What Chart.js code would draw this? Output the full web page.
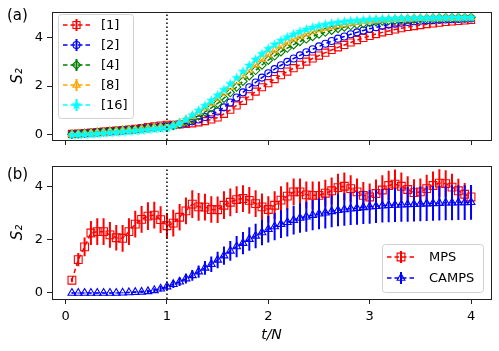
<!DOCTYPE html>
<html>
<head>
<meta charset="utf-8">
<script src="https://cdn.jsdelivr.net/npm/chart.js@4.4.1/dist/chart.umd.min.js"></script>
<style>
  html, body { margin: 0; padding: 0; background: #fff; }
  #wrap { position: relative; width: 499px; height: 351px; overflow: hidden; }
  #wrap canvas { position: absolute; left: 0; }
  #topChart { top: 0; }
  #botChart { top: 150px; }
</style>
</head>
<body>
<div id="wrap">
  <canvas id="topChart" width="499" height="160"></canvas>
  <canvas id="botChart" width="499" height="201"></canvas>
</div>
<script>
// time axis t/N
const times = [0.0625,0.125,0.1875,0.25,0.3125,0.375,0.4375,0.5,0.5625,0.625,0.6875,0.75,0.8125,0.875,0.9375,1.0,
  1.0625,1.125,1.1875,1.25,1.3125,1.375,1.4375,1.5,1.5625,1.625,1.6875,1.75,1.8125,1.875,1.9375,2.0,
  2.0625,2.125,2.1875,2.25,2.3125,2.375,2.4375,2.5,2.5625,2.625,2.6875,2.75,2.8125,2.875,2.9375,3.0,
  3.0625,3.125,3.1875,3.25,3.3125,3.375,3.4375,3.5,3.5625,3.625,3.6875,3.75,3.8125,3.875,3.9375,4.0];

// panel (a)
const s1 = [0.02,0.04,0.06,0.08,0.10,0.12,0.14,0.16,0.18,0.20,0.23,0.26,0.30,0.34,0.37,
  0.40,0.40,0.41,0.43,0.46,0.50,0.55,0.62,0.70,0.85,1.02,1.20,1.39,1.58,1.77,1.95,2.12,
  2.29,2.45,2.60,2.74,2.88,3.01,3.14,3.26,3.38,3.49,3.60,3.70,3.80,3.90,3.99,4.07,
  4.15,4.22,4.28,4.34,4.39,4.44,4.48,4.52,4.56,4.59,4.62,4.65,4.67,4.69,4.71,4.73];
const s2 = [0.01,0.03,0.05,0.07,0.09,0.11,0.13,0.15,0.17,0.19,0.21,0.24,0.27,0.30,0.33,
  0.35,0.38,0.42,0.47,0.54,0.62,0.72,0.83,0.95,1.12,1.32,1.53,1.74,1.95,2.15,2.35,2.53,
  2.70,2.86,3.00,3.14,3.27,3.40,3.52,3.64,3.75,3.86,3.96,4.05,4.14,4.22,4.30,4.37,
  4.43,4.49,4.54,4.58,4.62,4.65,4.68,4.70,4.72,4.73,4.74,4.75,4.76,4.77,4.78,4.79];
const s4 = [0.01,0.03,0.05,0.07,0.09,0.11,0.13,0.15,0.17,0.19,0.21,0.24,0.27,0.29,0.31,
  0.33,0.37,0.43,0.52,0.63,0.77,0.93,1.10,1.28,1.50,1.73,1.96,2.20,2.43,2.65,2.87,3.07,
  3.25,3.42,3.57,3.71,3.84,3.95,4.05,4.15,4.23,4.31,4.38,4.44,4.50,4.55,4.59,4.63,
  4.66,4.69,4.71,4.73,4.75,4.76,4.77,4.78,4.79,4.80,4.81,4.82,4.82,4.83,4.83,4.84];
const s8 = [0.00,0.02,0.04,0.06,0.08,0.10,0.12,0.14,0.16,0.18,0.20,0.23,0.26,0.29,0.31,
  0.33,0.38,0.48,0.60,0.75,0.92,1.10,1.30,1.50,1.72,1.95,2.19,2.43,2.66,2.88,3.10,3.30,
  3.48,3.65,3.80,3.94,4.06,4.16,4.25,4.33,4.40,4.46,4.51,4.56,4.60,4.63,4.66,4.69,
  4.71,4.73,4.75,4.76,4.77,4.78,4.79,4.80,4.80,4.81,4.81,4.82,4.82,4.82,4.83,4.83];
const s16 = [-0.03,-0.02,-0.01,0.00,0.02,0.04,0.06,0.08,0.10,0.12,0.14,0.16,0.19,0.22,0.24,
  0.27,0.35,0.47,0.62,0.80,0.99,1.19,1.40,1.62,1.85,2.09,2.34,2.60,2.85,3.10,3.33,3.54,
  3.72,3.88,4.02,4.14,4.25,4.34,4.42,4.49,4.54,4.59,4.63,4.66,4.69,4.71,4.73,4.75,
  4.76,4.77,4.78,4.79,4.80,4.80,4.81,4.81,4.81,4.82,4.82,4.82,4.83,4.83,4.83,4.83];
const topLabels = ['[1]', '[2]', '[4]', '[8]', '[16]'];

// panel (b)
const mps = [0.48,1.25,1.73,2.25,2.30,2.30,2.18,2.07,2.05,2.30,2.58,2.76,2.88,2.92,2.75,2.52,
  2.62,2.84,3.08,3.33,3.23,3.22,3.13,3.12,3.29,3.40,3.50,3.54,3.47,3.35,3.23,3.13,
  3.29,3.48,3.63,3.79,3.79,3.68,3.66,3.66,3.74,3.83,3.95,4.00,3.91,3.79,3.66,3.60,
  3.73,3.86,4.03,4.08,4.00,3.88,3.76,3.79,3.91,4.03,4.12,4.10,3.97,3.83,3.70,3.60];
const mpsErr = [0.08,0.25,0.35,0.45,0.50,0.50,0.48,0.48,0.50,0.50,0.50,0.50,0.52,0.50,0.50,0.48,
  0.50,0.50,0.50,0.52,0.52,0.50,0.50,0.50,0.52,0.52,0.50,0.50,0.50,0.50,0.50,0.50,
  0.52,0.52,0.52,0.50,0.50,0.50,0.52,0.52,0.50,0.50,0.52,0.52,0.50,0.50,0.50,0.50,
  0.52,0.55,0.55,0.55,0.52,0.50,0.50,0.50,0.52,0.52,0.52,0.50,0.50,0.45,0.42,0.40];
const camps = [0,0,0,0,0,0,0,0,0.01,0.02,0.03,0.04,0.06,0.10,0.16,0.24,
  0.33,0.42,0.54,0.66,0.80,0.94,1.08,1.24,1.40,1.58,1.74,1.87,2.02,2.14,2.27,2.39,
  2.49,2.58,2.65,2.73,2.81,2.86,2.92,2.97,3.01,3.06,3.10,3.13,3.16,3.18,3.21,3.23,
  3.25,3.27,3.29,3.30,3.31,3.32,3.33,3.34,3.35,3.36,3.37,3.38,3.38,3.39,3.39,3.40];
const campsErr = [0.02,0.02,0.02,0.02,0.02,0.02,0.02,0.02,0.02,0.03,0.04,0.05,0.06,0.08,0.10,0.12,
  0.14,0.16,0.18,0.20,0.23,0.26,0.29,0.31,0.34,0.37,0.40,0.42,0.44,0.46,0.48,0.50,
  0.51,0.52,0.53,0.54,0.55,0.56,0.57,0.58,0.59,0.60,0.60,0.61,0.61,0.62,0.62,0.63,
  0.63,0.63,0.64,0.64,0.64,0.65,0.65,0.65,0.65,0.65,0.65,0.65,0.65,0.65,0.65,0.65];
const botLabels = ['MPS', 'CAMPS'];

const xTicks = [0, 1, 2, 3, 4];
const yTicks = [0, 2, 4];
const xRange = [-0.134, 4.197];
const topYRange = [-0.23, 5.07];
const botYRange = [-0.225, 4.76];
const quenchTime = 1;

const FONT = '"DejaVu Sans", "Liberation Sans", sans-serif';

// filled five-point star for the [16] series
function makeStar(r, color) {
  const c = document.createElement('canvas');
  c.width = c.height = Math.ceil(r * 2 + 2);
  const g = c.getContext('2d');
  const cx = c.width / 2, cy = c.height / 2;
  g.beginPath();
  for (let i = 0; i < 10; i++) {
    const rr = i % 2 ? r * 0.42 : r;
    const a = -Math.PI / 2 + i * Math.PI / 5;
    g.lineTo(cx + rr * Math.cos(a), cy + rr * Math.sin(a));
  }
  g.closePath();
  g.fillStyle = color;
  g.fill();
  return c;
}
const star = makeStar(5.5, '#00ffff');

const pts = (ys) => times.map((t, i) => ({ x: t, y: ys[i] }));

function series(label, ys, color, style, radius, order, errs) {
  return {
    label: label,
    data: pts(ys),
    errors: errs,
    borderColor: color,
    borderWidth: 1.5,
    borderDash: [4.5, 3],
    pointStyle: style,
    pointRadius: radius,
    pointBorderWidth: 1.1,
    pointBorderColor: color,
    pointBackgroundColor: 'rgba(0,0,0,0)',
    order: order
  };
}

function vline(range) {
  return {
    data: [{ x: quenchTime, y: range[0] }, { x: quenchTime, y: range[1] }],
    borderColor: '#000',
    borderWidth: 1.5,
    borderDash: [1.5, 2.5],
    pointRadius: 0,
    order: 0
  };
}

// vertical error bars, drawn under each series' line and markers
const errorBars = {
  id: 'errorBars',
  beforeDatasetDraw(chart, args) {
    const ds = chart.data.datasets[args.index];
    if (!ds.errors) return;
    const { ctx, chartArea, scales } = chart;
    ctx.save();
    ctx.beginPath();
    ctx.rect(chartArea.left, chartArea.top, chartArea.width, chartArea.height);
    ctx.clip();
    ctx.strokeStyle = ds.borderColor;
    ctx.lineWidth = 2;
    ctx.beginPath();
    ds.data.forEach((p, i) => {
      const px = scales.x.getPixelForValue(p.x);
      ctx.moveTo(px, scales.y.getPixelForValue(p.y - ds.errors[i]));
      ctx.lineTo(px, scales.y.getPixelForValue(p.y + ds.errors[i]));
    });
    ctx.stroke();
    ctx.restore();
  }
};

// full box around the axes
const frame = {
  id: 'frame',
  afterDatasetsDraw(chart) {
    const { ctx, chartArea: a } = chart;
    ctx.save();
    ctx.strokeStyle = '#222';
    ctx.lineWidth = 1;
    ctx.strokeRect(Math.round(a.left) + 0.5, Math.round(a.top) + 0.5,
      Math.round(a.right) - Math.round(a.left), Math.round(a.bottom) - Math.round(a.top));
    ctx.restore();
  }
};

// matplotlib-like legend box inside the axes
const boxLegend = {
  id: 'boxLegend',
  afterDraw(chart, args, o) {
    const ctx = chart.ctx;
    const items = chart.data.datasets.filter(d => d.label);
    ctx.save();
    ctx.beginPath();
    ctx.roundRect(o.x + 0.5, o.y + 0.5, o.w, o.h, 3);
    ctx.fillStyle = 'rgba(255,255,255,0.8)';
    ctx.fill();
    ctx.strokeStyle = '#d0d0d0';
    ctx.lineWidth = 1;
    ctx.stroke();
    items.forEach((ds, i) => {
      const cy = o.y + o.first + i * o.step;
      const x0 = o.x + o.line[0], x1 = o.x + o.line[1];
      const mx = (x0 + x1) / 2;
      ctx.setLineDash(ds.borderDash);
      ctx.strokeStyle = ds.borderColor;
      ctx.lineWidth = ds.borderWidth;
      ctx.beginPath();
      ctx.moveTo(x0, cy);
      ctx.lineTo(x1, cy);
      ctx.stroke();
      ctx.setLineDash([]);
      ctx.lineWidth = 2;
      ctx.beginPath();
      ctx.moveTo(mx, cy - 6);
      ctx.lineTo(mx, cy + 6);
      ctx.stroke();
      ctx.fillStyle = 'rgba(0,0,0,0)';
      ctx.lineWidth = ds.pointBorderWidth;
      Chart.helpers.drawPoint(ctx, {
        pointStyle: ds.pointStyle, radius: ds.pointRadius,
        borderWidth: ds.pointBorderWidth, rotation: 0
      }, mx, cy);
      ctx.fillStyle = '#000';
      ctx.font = '13px ' + FONT;
      ctx.textBaseline = 'middle';
      ctx.fillText(ds.label, o.x + o.text, cy + 1);
    });
    ctx.restore();
  }
};

const panelLabel = {
  id: 'panelLabel',
  afterDraw(chart, args, o) {
    const ctx = chart.ctx;
    ctx.save();
    ctx.fillStyle = '#000';
    ctx.font = '15px ' + FONT;
    ctx.textBaseline = 'middle';
    ctx.fillText(o.text, o.x, o.y);
    ctx.restore();
  }
};

function axes(yRange, showX, xHeight) {
  const tickStyle = { drawOnChartArea: false, drawTicks: true, tickLength: 5, color: '#222', lineWidth: 1 };
  return {
    x: {
      type: 'linear',
      min: xRange[0], max: xRange[1],
      afterBuildTicks: s => { s.ticks = xTicks.map(v => ({ value: v })); },
      afterFit: s => { s.height = xHeight; },
      grid: tickStyle,
      border: { display: false },
      ticks: {
        callback: v => showX ? String(v) : '',
        color: '#000', padding: 5, maxRotation: 0,
        font: { family: FONT, size: 13 }
      },
      title: {
        display: showX, text: 't/N', color: '#000',
        font: { family: FONT, size: 14, style: 'italic' },
        padding: { top: 0, bottom: 7 }
      }
    },
    y: {
      type: 'linear',
      min: yRange[0], max: yRange[1],
      afterBuildTicks: s => { s.ticks = yTicks.map(v => ({ value: v })); },
      afterFit: s => { s.width = 52; },
      grid: tickStyle,
      border: { display: false },
      ticks: { color: '#000', padding: 4, font: { family: FONT, size: 13 } },
      title: {
        display: true, text: 'S₂', color: '#000',
        font: { family: FONT, size: 15, style: 'italic' },
        padding: { top: 9, bottom: 9 }
      }
    }
  };
}

const common = {
  responsive: false,
  animation: false,
  events: [],
  elements: { line: { tension: 0 } }
};

new Chart(document.getElementById('topChart'), {
  type: 'line',
  data: {
    datasets: [
      series(topLabels[0], s1, '#ff0000', 'rect', 5, 5),
      series(topLabels[1], s2, '#0000ff', 'circle', 3.5, 4),
      series(topLabels[2], s4, '#008000', 'rectRot', 4.2, 3),
      series(topLabels[3], s8, '#ffa500', 'triangle', 4.2, 2),
      series(topLabels[4], s16, '#00ffff', star, 5.5, 1),
      vline(topYRange)
    ]
  },
  options: Object.assign({}, common, {
    layout: { padding: { left: 0, right: 8, top: 8, bottom: 0 } },
    plugins: {
      legend: { display: false },
      tooltip: { enabled: false },
      boxLegend: { x: 58, y: 14, w: 75, h: 104, first: 11, step: 20, line: [5, 32], text: 43 },
      panelLabel: { text: '(a)', x: 7, y: 16 }
    },
    scales: axes(topYRange, false, 20)
  }),
  plugins: [errorBars, frame, boxLegend, panelLabel]
});

new Chart(document.getElementById('botChart'), {
  type: 'line',
  data: {
    datasets: [
      series(botLabels[0], mps, '#ff0000', 'rect', 5.5, 2, mpsErr),
      series(botLabels[1], camps, '#0000ff', 'triangle', 4.5, 1, campsErr),
      vline(botYRange)
    ]
  },
  options: Object.assign({}, common, {
    layout: { padding: { left: 0, right: 8, top: 16, bottom: 0 } },
    plugins: {
      legend: { display: false },
      tooltip: { enabled: false },
      boxLegend: { x: 382, y: 94, w: 101, h: 48, first: 13, step: 21, line: [5, 33], text: 47 },
      panelLabel: { text: '(b)', x: 7, y: 25 }
    },
    scales: axes(botYRange, true, 52)
  }),
  plugins: [errorBars, frame, boxLegend, panelLabel]
});
</script>
</body>
</html>
